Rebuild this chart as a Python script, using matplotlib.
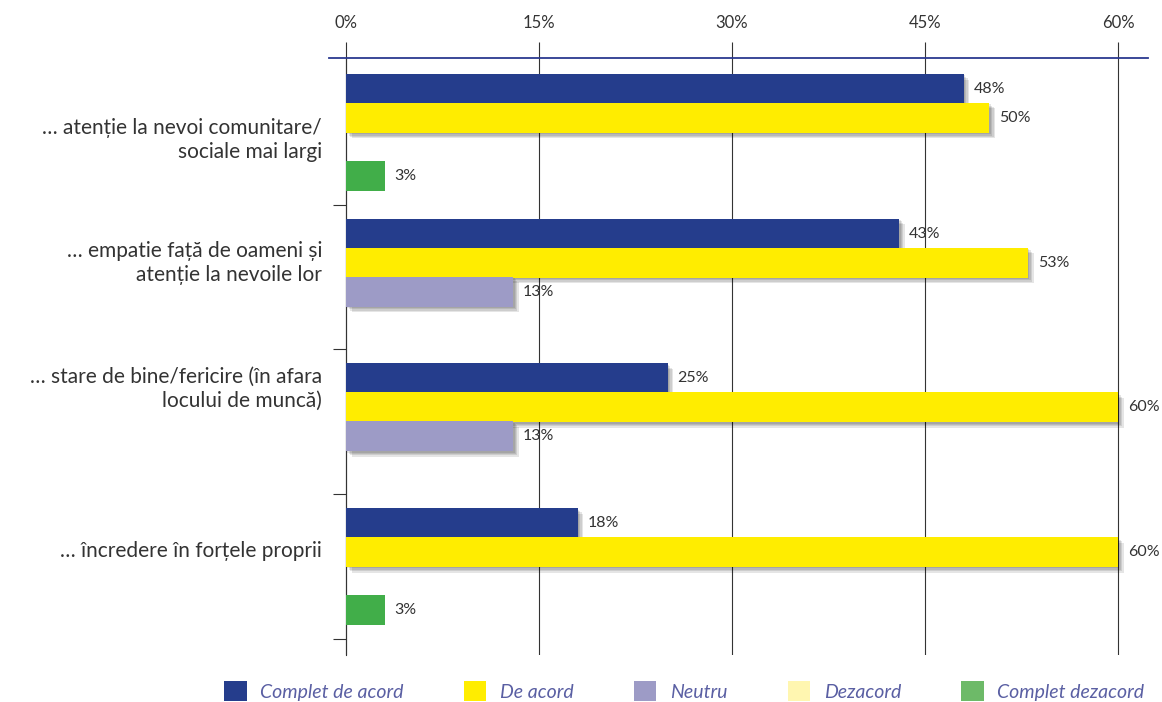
import matplotlib
matplotlib.use("Agg")
import matplotlib.pyplot as plt
import matplotlib.patheffects as pe
from matplotlib.patches import Patch
import numpy as np

plt.rcParams['font.family'] = ['Lato', 'DejaVu Sans']

# categories (top to bottom) and shares in %
categories = [
    "… atenție la nevoi comunitare/\nsociale mai largi",
    "… empatie față de oameni și\natenție la nevoile lor",
    "… stare de bine/fericire (în afara\nlocului de muncă)",
    "… încredere în forțele proprii",
]
complet_acord = [48, 43, 25, 18]
acord = [50, 53, 60, 60]
neutru = [0, 13, 13, 0]
dezacord = [0, 0, 0, 0]
complet_dezacord = [3, 0, 0, 3]

series_names = ["Complet de acord", "De acord", "Neutru", "Dezacord", "Complet dezacord"]
x_ticks = [0, 15, 30, 45, 60]

# styling
bar_colors = ["#253d8c", "#ffed00", "#9d9bc6", "#fff6b0", "#41ae49"]
legend_colors = ["#253d8c", "#ffed00", "#9d9bc6", "#fff6b0", "#6dba68"]
slot = [-0.3, -0.1, 0.1, None, 0.3]   # Dezacord has no bars
shadowed = [True, True, True, True, False]
label_shift = [0.05, -0.10, -0.23, -0.11]
text_color = "#333333"

fig = plt.figure(figsize=(11.62, 7.02), dpi=100)
ax = fig.add_axes([0.2831, 0.0670, 0.7049, 0.8504])

px = 60 / 772.0
ax.set_xlim(-17 * px, 802 * px)
ax.set_ylim(3.5 + 16 / 144, -0.5 - 2 / 144)

shadow = [pe.SimplePatchShadow(offset=(o, -o), shadow_rgbFace="#000000", alpha=0.10)
          for o in (4, 3, 2, 1)] + [pe.Normal()]

y = np.arange(len(categories))
all_series = [complet_acord, acord, neutru, dezacord, complet_dezacord]
for vals, col, off, sh in zip(all_series, bar_colors, slot, shadowed):
    if off is None:
        continue
    for yi, v in zip(y, vals):
        if v <= 0:
            continue
        b = ax.barh(yi + off, v, height=0.207, color=col, zorder=3)
        if sh:
            b[0].set_path_effects(shadow)
        ax.annotate(f"{v}%", (v, yi + off), xytext=(7, 0), textcoords="offset points",
                    va="center", ha="left", fontsize=11.5, color=text_color, zorder=4)

# category labels
for yi, txt, d in zip(y, categories, label_shift):
    ax.text(-0.0085, yi + d, txt, transform=ax.get_yaxis_transform(),
            ha="right", va="center", fontsize=15, color=text_color, linespacing=1.25)

# axes
ax.xaxis.tick_top()
ax.set_xticks(x_ticks)
ax.set_xticklabels([f"{t}%" for t in x_ticks], fontsize=12, color=text_color)
ax.tick_params(axis="x", length=11.5, width=0.8, color=text_color, pad=8)
ax.grid(axis="x", color=text_color, lw=0.8, zorder=1)
ax.set_axisbelow(True)

ax.set_yticks([0.5, 1.5, 2.5, 3.5])
ax.set_yticklabels([])
ax.tick_params(axis="y", length=9.5, width=0.8, color=text_color, direction="out")

ax.spines["left"].set_position(("data", 0))
ax.spines["left"].set_color(text_color)
ax.spines["left"].set_linewidth(0.8)
ax.spines["top"].set_color("#2b3990")
ax.spines["top"].set_linewidth(1.3)
ax.spines["right"].set_visible(False)
ax.spines["bottom"].set_visible(False)

handles = [Patch(facecolor=c, edgecolor="none") for c in legend_colors]
leg = fig.legend(handles, series_names, loc="center", bbox_to_anchor=(0.589, 0.0157),
                 ncol=5, frameon=False, handlelength=1.15, handleheight=1.15,
                 handletextpad=0.7, columnspacing=3.1,
                 prop={"size": 14, "style": "italic"})
for t in leg.get_texts():
    t.set_color("#5a5fa3")

fig.savefig("out.png", dpi=100)
